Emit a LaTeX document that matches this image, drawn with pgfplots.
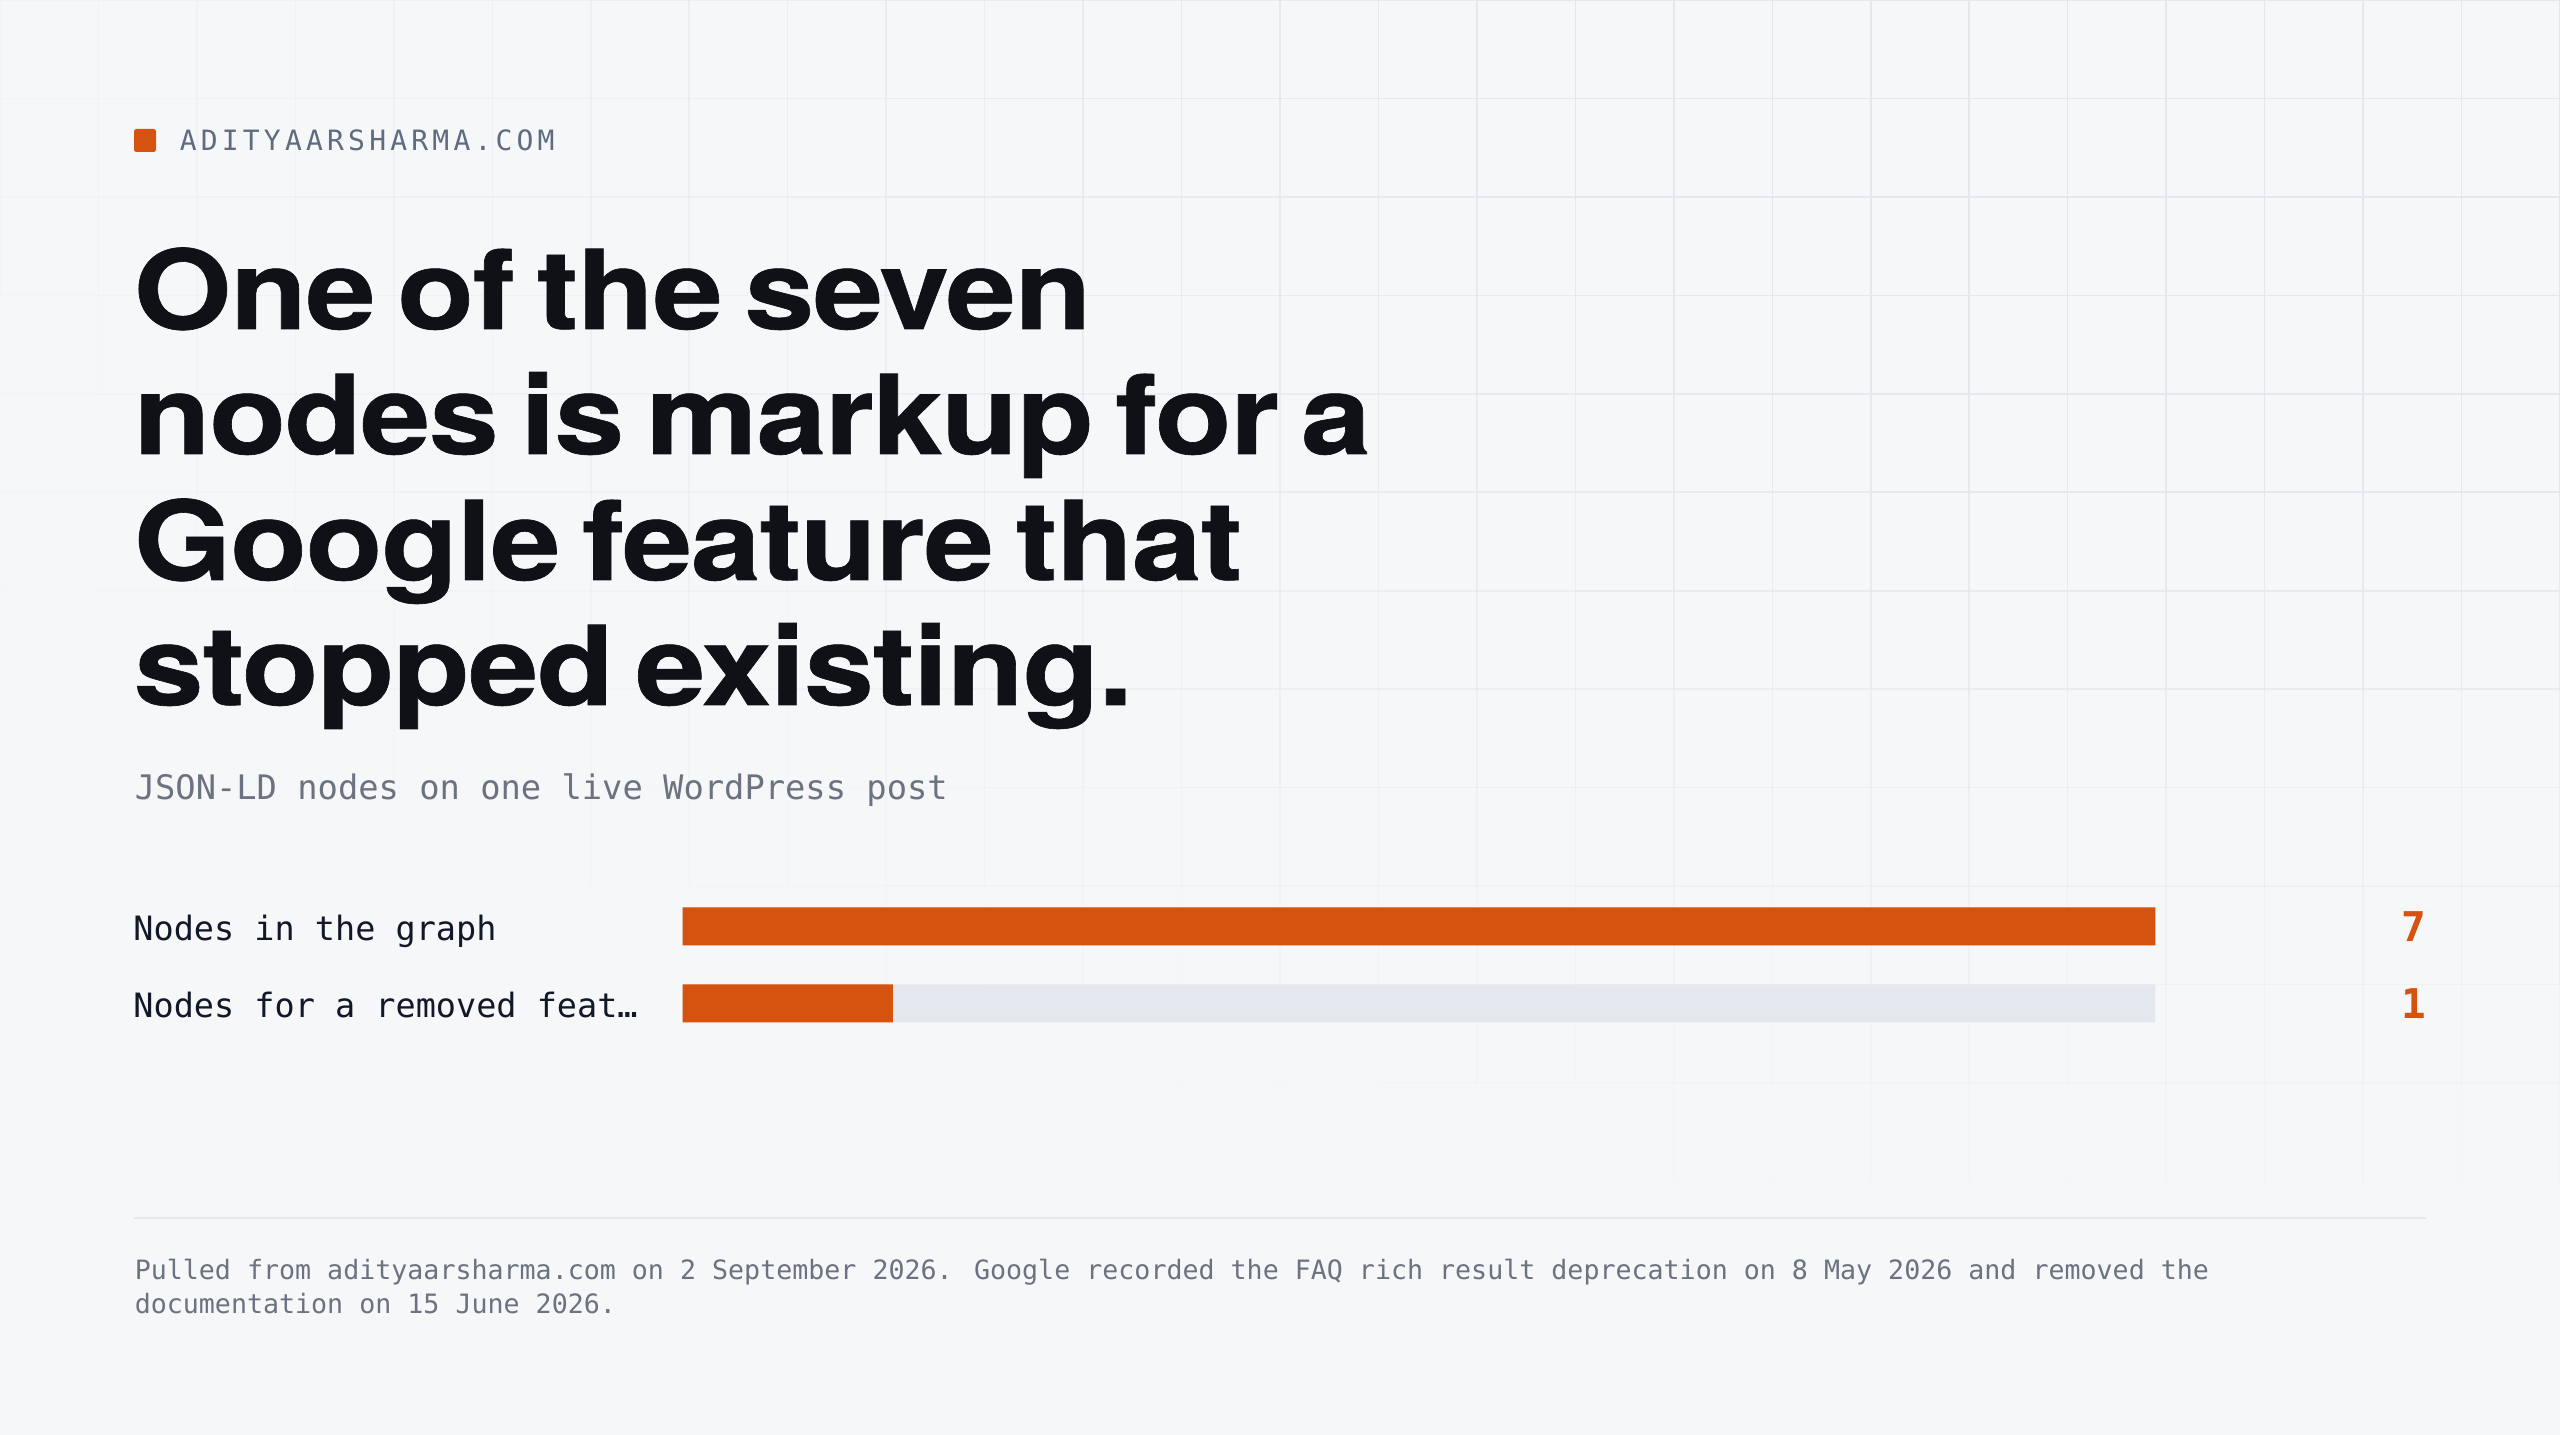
\documentclass[border=0pt]{standalone}
\usepackage{pgfplots}
\pgfplotsset{compat=1.18}
\usepackage{fontspec}
\setmainfont{DejaVu Sans Mono}
\newfontfamily\mono{DejaVu Sans Mono}
\newfontfamily\monohead[LetterSpace=15]{DejaVu Sans Mono}
\newfontfamily\titlefont[FakeStretch=1.14, LetterSpace=-1, WordSpace=0.65, FakeBold=0.6]{TeX Gyre Heros}
\definecolor{bg}{HTML}{F6F7F9}
\definecolor{gridc}{HTML}{E4E7ED}
\definecolor{accent}{HTML}{D5530F}
\definecolor{track}{HTML}{E3E7EE}
\definecolor{headgray}{HTML}{5F6B7F}
\definecolor{subgray}{HTML}{6B7280}
\definecolor{ink}{HTML}{0F1117}
\definecolor{labelc}{HTML}{111827}
\definecolor{sep}{HTML}{E4E7EC}
\begin{document}
\begin{tikzpicture}[x=0.25pt,y=0.25pt]
\path[use as bounding box] (0,0) rectangle (2560,1435);
\fill[bg] (0,0) rectangle (2560,1435);
% faint grid, fading away from the top right corner
\foreach \i in {0,...,26}{
  \foreach \j in {0,...,14}{
    \pgfmathsetmacro\xx{\i*98.46}
    \pgfmathsetmacro\ya{1435-\j*98.46}
    \pgfmathsetmacro\yb{1435-(\j+1)*98.46}
    \pgfmathsetmacro\rr{sqrt(((2560-\xx)/2900)^2+((\j*98.46+49)/1250)^2)}
    \pgfmathsetmacro\op{max(0,min(1,1.5*(1-\rr)))}
    \draw[gridc, line width=0.4pt, opacity=\op] (\xx,\ya) -- (\xx,\yb);
  }
}
\foreach \j in {0,...,14}{
  \foreach \i in {0,...,25}{
    \pgfmathsetmacro\xa{\i*98.46}
    \pgfmathsetmacro\xb{(\i+1)*98.46}
    \pgfmathsetmacro\yy{1435-\j*98.46}
    \pgfmathsetmacro\rr{sqrt(((2560-\xa-49)/2900)^2+((\j*98.46)/1250)^2)}
    \pgfmathsetmacro\op{max(0,min(1,1.5*(1-\rr)))}
    \draw[gridc, line width=0.4pt, opacity=\op] (\xa,\yy) -- (\xb,\yy);
  }
}
% header
\fill[accent, rounded corners=0.6pt] (134,1283) rectangle (156,1306);
\node[anchor=base west, inner sep=0pt, text=headgray, font=\monohead\fontsize{7}{8}\selectfont] at (179,1284) {ADITYAARSHARMA.COM};
% title
\begin{scope}[every node/.style={anchor=base west, inner sep=0pt, text=ink, font=\titlefont\bfseries\fontsize{27.5}{31}\selectfont}]
\node at (133,1106) {One of the seven};
\node at (133,981) {nodes is markup for a};
\node at (133,855) {Google feature that};
\node at (133,730) {stopped existing.};
\end{scope}
% subtitle
\node[anchor=base west, inner sep=0pt, text=subgray, font=\mono\fontsize{8.44}{10}\selectfont] at (134,635) {JSON-LD nodes on one live WordPress post};
% bars
\begin{axis}[
  at={(170.625pt,117.5pt)}, anchor=west,
  scale only axis, width=368.25pt, height=38.5pt,
  xmin=0, xmax=7, ymin=-0.5, ymax=1.5,
  enlargelimits=false, clip=false,
  xbar, bar width=9.5pt, bar shift=0pt,
  axis line style={draw=none}, major tick style={draw=none},
  xtick=\empty, ytick={0,1},
  yticklabels={{Nodes for a removed feat…},{Nodes in the graph}},
  yticklabel style={anchor=west, xshift=-133.2pt, yshift=-0.3pt, inner sep=0pt, text depth=0pt, text=labelc, font=\mono\fontsize{8.375}{10}\selectfont},
  /pgf/number format/assume math mode=true,
]
\addplot[fill=track, draw=none, point meta=explicit, nodes near coords,
  every node near coord/.append style={anchor=east, xshift=67.75pt, inner sep=0pt, text=accent, font=\mono\bfseries\fontsize{10.25}{12}\selectfont}]
  coordinates {(7,1) [7] (7,0) [1]};
\addplot[fill=accent, draw=none] coordinates {(7,1) (1,0)};
\end{axis}
% separator and footer
\draw[sep, line width=0.5pt] (134,217) -- (2426,217);
\begin{scope}[every node/.style={anchor=base west, inner sep=0pt, text=subgray, font=\mono\fontsize{6.66}{8}\selectfont}]
\node at (134,155) {Pulled from adityaarsharma.com on 2 September 2026. Google recorded the FAQ rich result deprecation on 8 May 2026 and removed the};
\node at (134,121) {documentation on 15 June 2026.};
\end{scope}
\end{tikzpicture}
\end{document}
